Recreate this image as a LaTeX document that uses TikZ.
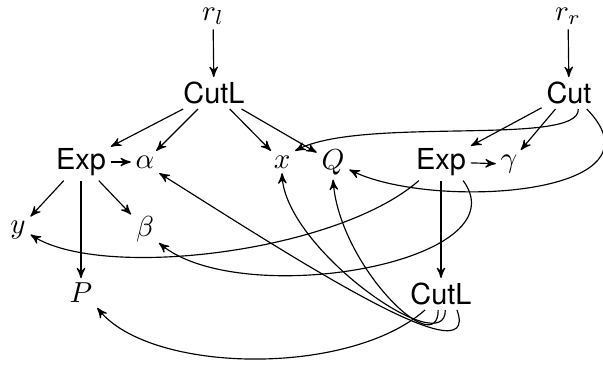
\documentclass[tikz,border=0pt]{standalone}
\usepackage{fontspec}
\setsansfont{TeX Gyre Heros}
\usepackage{tikz}
\usetikzlibrary{arrows}

\begin{document}
\begin{tikzpicture}[x=0.346pt, y=0.346pt, >=stealth', inner sep=1.5pt]
  \useasboundingbox (0,0) rectangle (603,-367);
  % left tree
  \node (rl) at (213,-16) {$r_l$};
  \node (cutl) at (214,-93) {\textsf{CutL}};
  \node (expl) at (81,-162) {\textsf{Exp}};
  \node (alpha) at (145,-162) {$\alpha$};
  \node (x) at (282,-162) {$x$};
  \node (Q) at (333,-162) {$Q$};
  \node (y) at (18,-230) {$y$};
  \node (beta) at (145,-229) {$\beta$};
  \node (P) at (81,-293) {$P$};
  % right tree
  \node (rr) at (568,-16) {$r_r$};
  \node (cut) at (569,-93) {\textsf{Cut}};
  \node (expr) at (441,-162) {\textsf{Exp}};
  \node (gamma) at (509,-164) {$\gamma$};
  \node (cutb) at (441,-294) {\textsf{CutL}};

  \path[->]
  (rl) edge (cutl)
  (cutl) edge (expl) edge (alpha) edge (x) edge (Q)
  (expl) edge (alpha) edge (y) edge (P) edge (beta)
  (rr) edge (cut)
  (cut) edge (expr) edge (gamma)
  (expr) edge (gamma) edge (cutb)
  ;
  % links back into the left tree
  \draw[->] (cut.-60) .. controls +(3,-38) and +(66,35) .. (x.north east);
  \draw[->] (cut.-42) .. controls +(85,-87) and +(82,-41) .. (Q.-25);
  \draw[->] (expr.-140) .. controls +(-82,-72) and +(71,-46) .. (y.-20);
  \draw[->] (expr.-40) .. controls +(60,-82) and +(82,-68) .. (beta.-45);
  \draw[->] (cutb.-135) .. controls +(-76,-67) and +(53,-66) .. (P.south east);
  \draw[->] (cutb.-45) .. controls +(26,-72) and +(121,-76) .. (alpha.south east);
  \draw[->] (cutb.-75) .. controls +(1,-52) and +(3,-76) .. (x.south);
  \draw[->] (cutb.-100) .. controls +(0,-52) and +(7,-87) .. (Q.south);
\end{tikzpicture}
\end{document}
